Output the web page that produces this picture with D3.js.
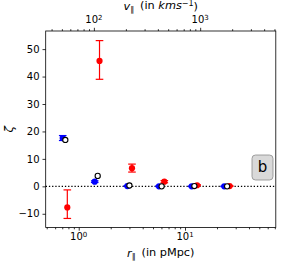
<!DOCTYPE html>
<html>
<head>
<meta charset="utf-8">
<script src="https://cdn.jsdelivr.net/npm/d3@7"></script>
<style>
body { margin: 0; background: #fff; }
text { font-family: "DejaVu Sans", sans-serif; fill: #000; }
</style>
</head>
<body>
<div id="chart"></div>
<script>
//width and height
var w = 283;
var h = 262;
var axLeft = 45.7, axRight = 275.8, axTop = 31, axBottom = 227.5;
var H = 72; // km/s per pMpc, for the top axis

// data
var blueR = [0.707, 1.414, 2.865, 5.69, 11.56, 23.4];
var blueZeta = [17.6, 1.7, 0.1, 0.0, 0.0, 0.0];
var blueErr = [0.9, 0.3, 0.1, 0.1, 0.1, 0.1];

var redR = [0.781, 1.569, 3.17, 6.39, 13.0, 26.3];
var redZeta = [-7.7, 45.7, 6.6, 1.7, 0.4, 0.1];
var redErrLo = [4.0, 6.7, 1.4, 0.4, 0.2, 0.1];
var redErrHi = [6.4, 7.4, 1.5, 0.4, 0.2, 0.1];

var openR = [0.748, 1.509, 3.00, 6.03, 12.25, 24.9];
var openZeta = [16.9, 3.8, 0.3, 0.0, 0.1, 0.0];

var yTicks = [-10, 0, 10, 20, 30, 40, 50];
var rMajor = [1, 10];
var rExp = ["0", "1"];
var rMinor = [0.5, 0.6, 0.7, 0.8, 0.9, 2, 3, 4, 5, 6, 7, 8, 9, 20, 30, 40, 50, 60, 70];
var vMajor = [100, 1000];
var vExp = ["2", "3"];
var vMinor = [40, 50, 60, 70, 80, 90, 200, 300, 400, 500, 600, 700, 800, 900, 2000, 3000, 4000, 5000];
var panelLabel = "b";

//scales
var xScale = d3.scaleLog().domain([0.489, 71.5]).range([axLeft, axRight]);
var vScale = d3.scaleLog().domain([0.489 * H, 71.5 * H]).range([axLeft, axRight]);
var yScale = d3.scaleLinear().domain([-15, 56.6]).range([axBottom, axTop]);

var svg = d3.select("#chart").append("svg")
	.attr("width", w)
	.attr("height", h);

//axes (ticks only, labels drawn by hand for the superscripts)
function ticksOnly(axis, vals, size) {
	return axis.tickValues(vals).tickSize(size).tickFormat("");
}
var gx = svg.append("g").attr("transform", "translate(0," + axBottom + ")");
gx.call(ticksOnly(d3.axisBottom(xScale), rMinor, 1.8));
gx.append("g").call(ticksOnly(d3.axisBottom(xScale), rMajor, 3.2));
var gt = svg.append("g").attr("transform", "translate(0," + axTop + ")");
gt.call(ticksOnly(d3.axisTop(vScale), vMinor, 1.8));
gt.append("g").call(ticksOnly(d3.axisTop(vScale), vMajor, 3.2));
var gy = svg.append("g").attr("transform", "translate(" + axLeft + ",0)");
gy.call(d3.axisLeft(yScale).tickValues(yTicks).tickSize(3.2).tickPadding(3)
	.tickFormat(function (d) { return d < 0 ? "\u2212" + Math.abs(d) : d; }));
svg.selectAll(".domain").remove();
svg.selectAll(".tick line").attr("stroke", "#000").attr("stroke-width", 0.8);
gy.selectAll("text").attr("font-size", "10px").attr("font-family", "DejaVu Sans");

//decade labels
function decade(sel, scale, vals, exps, y) {
	var t = sel.selectAll(null).data(vals).enter().append("text")
		.attr("x", function (d) { return scale(d); })
		.attr("y", y)
		.attr("text-anchor", "middle")
		.attr("font-size", "10px");
	t.append("tspan").text("10");
	t.append("tspan").attr("dy", "-0.42em").attr("font-size", "7px")
		.text(function (d, i) { return exps[i]; });
}
decade(svg, xScale, rMajor, rExp, 240);
decade(svg, vScale, vMajor, vExp, 22.6);

//zero line
svg.append("line")
	.attr("x1", axLeft).attr("x2", axRight)
	.attr("y1", yScale(0)).attr("y2", yScale(0))
	.attr("stroke", "#000")
	.attr("stroke-width", 1.3)
	.attr("stroke-dasharray", "1.3,1.9");

//error bars
function errorBars(xs, ys, lo, hi, color) {
	var g = svg.append("g").attr("stroke", color).attr("stroke-width", 1.2);
	xs.forEach(function (r, i) {
		var x = xScale(r);
		var y1 = yScale(ys[i] - lo[i]), y2 = yScale(ys[i] + hi[i]);
		g.append("line").attr("x1", x).attr("x2", x).attr("y1", y1).attr("y2", y2);
		g.append("line").attr("x1", x - 3.8).attr("x2", x + 3.8).attr("y1", y1).attr("y2", y1);
		g.append("line").attr("x1", x - 3.8).attr("x2", x + 3.8).attr("y1", y2).attr("y2", y2);
	});
}

errorBars(blueR, blueZeta, blueErr, blueErr, "#0000ff");
svg.selectAll("circle.blue")
	.data(blueR)
	.enter()
	.append("circle")
	.attr("class", "blue")
	.attr("cx", function (d) { return xScale(d); })
	.attr("cy", function (d, i) { return yScale(blueZeta[i]); })
	.attr("r", 3.1)
	.attr("fill", "#0000ff");

errorBars(redR, redZeta, redErrLo, redErrHi, "#ff0000");
svg.selectAll("circle.red")
	.data(redR)
	.enter()
	.append("circle")
	.attr("class", "red")
	.attr("cx", function (d) { return xScale(d); })
	.attr("cy", function (d, i) { return yScale(redZeta[i]); })
	.attr("r", 3.1)
	.attr("fill", "#ff0000");

svg.selectAll("circle.open")
	.data(openR)
	.enter()
	.append("circle")
	.attr("class", "open")
	.attr("cx", function (d) { return xScale(d); })
	.attr("cy", function (d, i) { return yScale(openZeta[i]); })
	.attr("r", 2.6)
	.attr("fill", "#fff")
	.attr("stroke", "#000")
	.attr("stroke-width", 1.1);

//frame
svg.append("rect")
	.attr("x", axLeft).attr("y", axTop)
	.attr("width", axRight - axLeft).attr("height", axBottom - axTop)
	.attr("fill", "none")
	.attr("stroke", "#000")
	.attr("stroke-width", 0.8);

//panel label
svg.append("rect")
	.attr("x", 252).attr("y", 155)
	.attr("width", 21).attr("height", 25)
	.attr("rx", 3.5)
	.attr("fill", "#d9d9d9")
	.attr("stroke", "#8c8c8c")
	.attr("stroke-width", 0.8);
svg.append("text")
	.attr("x", 262.5).attr("y", 172)
	.attr("text-anchor", "middle")
	.attr("font-size", "15px")
	.text(panelLabel);

//axis titles
var xl = svg.append("text")
	.attr("x", (axLeft + axRight) / 2).attr("y", 256.5)
	.attr("text-anchor", "middle")
	.attr("font-size", "11.3px");
xl.append("tspan").attr("font-style", "italic").text("r");
xl.append("tspan").attr("dy", "0.25em").attr("font-size", "8px").text("\u2225");
xl.append("tspan").attr("dy", "-0.25em").text("\u2009 (in pMpc)");

var tl = svg.append("text")
	.attr("x", (axLeft + axRight) / 2).attr("y", 9.8)
	.attr("text-anchor", "middle")
	.attr("font-size", "11.3px");
tl.append("tspan").attr("font-style", "italic").text("v");
tl.append("tspan").attr("dy", "0.25em").attr("font-size", "8px").text("\u2225");
tl.append("tspan").attr("dy", "-0.25em").text("\u2009 (in ");
tl.append("tspan").attr("font-style", "italic").text("kms");
tl.append("tspan").attr("dy", "-0.4em").attr("font-size", "8px").text("\u22121");
tl.append("tspan").attr("dy", "0.4em").text(")");

svg.append("text")
	.attr("transform", "translate(13," + ((axTop + axBottom) / 2) + ") rotate(-90)")
	.attr("text-anchor", "middle")
	.attr("font-size", "12px")
	.attr("font-style", "italic")
	.text("\u03b6");
</script>
</body>
</html>
